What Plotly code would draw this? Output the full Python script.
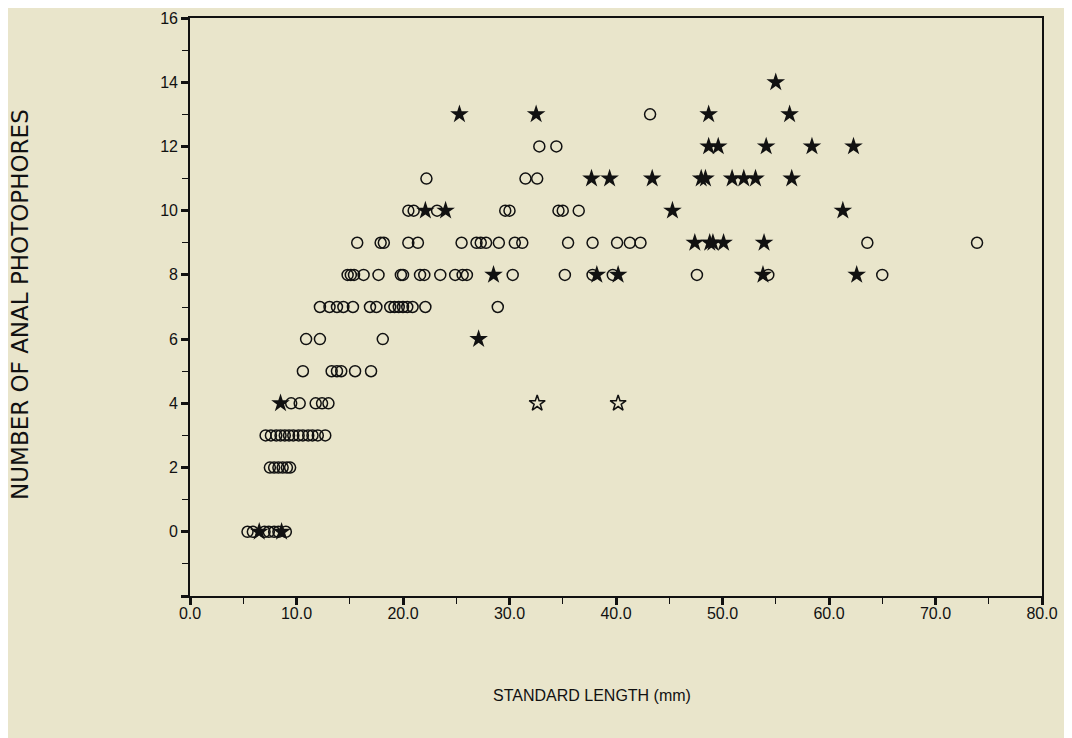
import plotly.graph_objects as go

# ---- data (standard length mm, number of anal photophores) ----
circle_x = [
    5.4, 5.9, 7.0, 7.4, 7.9, 8.3, 9.0,                                   # 0
    7.5, 7.9, 8.3, 8.7, 9.1, 9.4,                                        # 2
    7.1, 7.6, 8.1, 8.5, 8.9, 9.3, 9.7, 10.2, 10.6, 11.1, 11.5, 12.0, 12.7,  # 3
    9.5, 10.3, 11.8, 12.4, 13.0,                                         # 4
    10.6, 13.3, 13.8, 14.2, 15.5, 17.0,                                  # 5
    10.9, 12.2, 18.1,                                                    # 6
    12.2, 13.1, 13.8, 14.4, 15.3, 16.9, 17.5, 18.8, 19.2, 19.6, 20.0,
    20.4, 20.9, 22.1, 28.9,                                              # 7
    14.8, 15.1, 15.4, 16.3, 17.7, 19.8, 20.0, 21.6, 22.0, 23.5, 24.9,
    25.6, 26.0, 30.3, 35.2, 37.8, 39.7, 47.6, 54.3, 65.0,                # 8
    15.7, 17.9, 18.2, 20.5, 21.4, 25.5, 26.9, 27.3, 27.8, 29.0, 30.5,
    31.2, 35.5, 37.8, 40.1, 41.3, 42.3, 63.6, 73.9,                      # 9
    20.5, 21.0, 23.2, 29.6, 30.0, 34.6, 35.0, 36.5,                      # 10
    22.2, 31.5, 32.6,                                                    # 11
    32.8, 34.4,                                                          # 12
    43.2,                                                                # 13
]
circle_y = (
    [0] * 7 + [2] * 6 + [3] * 13 + [4] * 5 + [5] * 6 + [6] * 3 + [7] * 15
    + [8] * 20 + [9] * 19 + [10] * 8 + [11] * 3 + [12] * 2 + [13] * 1
)

star_x = [6.5, 8.6, 8.5, 27.1,
          28.5, 38.2, 40.2, 53.8, 62.6,
          47.4, 48.8, 49.1, 50.1, 53.9,
          22.1, 24.0, 45.3, 61.3,
          37.7, 39.4, 43.4, 48.0, 48.4, 50.9, 52.0, 53.1, 56.5,
          48.7, 49.6, 54.1, 58.4, 62.3,
          25.3, 32.5, 48.7, 56.3,
          55.0]
star_y = ([0, 0, 4, 6] + [8] * 5 + [9] * 5 + [10] * 4 + [11] * 9
          + [12] * 5 + [13] * 4 + [14])

open_star_x = [32.6, 40.2]
open_star_y = [4, 4]

x_ticks = [0, 10, 20, 30, 40, 50, 60, 70, 80]
x_labels = ["0.0", "10.0", "20.0", "30.0", "40.0", "50.0", "60.0", "70.0", "80.0"]
y_ticks = [-2, 0, 2, 4, 6, 8, 10, 12, 14, 16]
y_labels = ["", "0", "2", "4", "6", "8", "10", "12", "14", "16"]

BG = "rgb(233,229,203)"
INK = "#111"

fig = go.Figure()
fig.add_trace(go.Scatter(
    x=circle_x, y=circle_y, mode="markers",
    marker=dict(symbol="circle-open", size=11, color=INK, line=dict(width=1.5, color=INK)),
    showlegend=False, hoverinfo="x+y"))
fig.add_trace(go.Scatter(
    x=star_x, y=star_y, mode="markers",
    marker=dict(symbol="star", size=14, color=INK, line=dict(width=0)),
    showlegend=False, hoverinfo="x+y"))
fig.add_trace(go.Scatter(
    x=open_star_x, y=open_star_y, mode="markers",
    marker=dict(symbol="star-open", size=12, color=INK, line=dict(width=1.5, color=INK)),
    showlegend=False, hoverinfo="x+y"))

font = "Liberation Sans, Arial, sans-serif"

W, H = 1064, 730
L, T, PW, PH = 182, 10, 852, 578

fig.update_layout(
    width=W, height=H,
    margin=dict(l=L, r=W - L - PW, t=T, b=H - T - PH, autoexpand=False),
    paper_bgcolor=BG, plot_bgcolor=BG,
    font=dict(family=font, size=16, color=INK),
    xaxis=dict(range=[0, 80], tickvals=x_ticks, ticktext=x_labels, automargin=False,
               showgrid=False, zeroline=False, showline=True, linecolor=INK,
               linewidth=1.6, mirror=True, ticks="outside", ticklen=7, tickwidth=3,
               tickcolor=INK, ticklabelstandoff=-5, ticklabeloverflow="allow",
               minor=dict(dtick=5, tick0=0, ticks="outside", ticklen=6, tickwidth=1.2,
                          tickcolor=INK, showgrid=False),
               tickfont=dict(size=16, family=font)),
    yaxis=dict(range=[-2, 16], tickvals=y_ticks, ticktext=y_labels, automargin=False,
               showgrid=False, zeroline=False, showline=True, linecolor=INK,
               linewidth=1.6, mirror=True, ticks="outside", ticklen=7, tickwidth=3,
               tickcolor=INK, ticklabeloverflow="allow",
               minor=dict(dtick=1, tick0=0, ticks="outside", ticklen=6, tickwidth=1.2,
                          tickcolor=INK, showgrid=False),
               tickfont=dict(size=16, family=font)),
    annotations=[
        dict(text="NUMBER OF ANAL PHOTOPHORES", xref="paper", yref="paper",
             x=(12 - L) / PW, y=1 - (305 - 8 - T) / PH, textangle=-90, showarrow=False,
             font=dict(size=23, family="DejaVu Sans, sans-serif", color=INK),
             xanchor="center", yanchor="middle"),
        dict(text="STANDARD LENGTH (mm)", xref="paper", yref="paper",
             x=(584 - L) / PW, y=-(695 - 596) / PH, showarrow=False,
             font=dict(size=16, family=font, color=INK), xanchor="center", yanchor="middle"),
    ],
)

fig.write_html("out.html")
